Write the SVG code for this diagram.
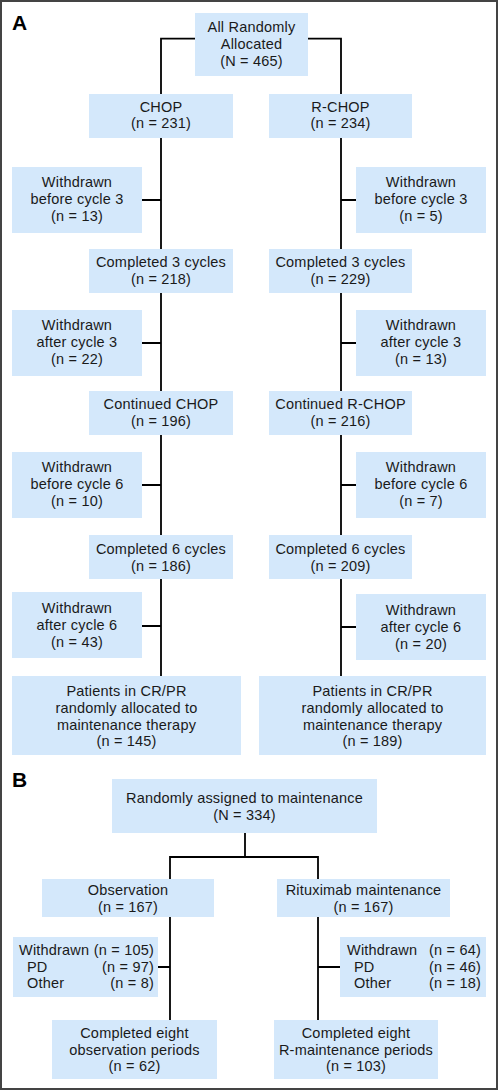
<svg xmlns="http://www.w3.org/2000/svg" width="500" height="1092" viewBox="0 0 500 1092">
<style>
.b{fill:#d4e8fb}
text{font-family:"Liberation Sans",Arial,sans-serif;font-size:14.5px;fill:#1a1a1a;letter-spacing:0.2px}
.c{text-anchor:middle}
.e{text-anchor:end}
.L{font-size:21px;font-weight:bold;fill:#000;letter-spacing:0}
.ln{fill:none;stroke:#000;stroke-width:1.8}
</style>
<rect x="1" y="1" width="496" height="1088" fill="#fff" stroke="#444" stroke-width="2"/>
<text class="L" x="12" y="30">A</text>
<text class="L" x="12" y="787">B</text>
<g id="connectors" class="ln">
<path d="M195 38.7H161V94M308 38.7H341V94"/>
<path d="M161 138V676M341 138V676"/>
<path d="M142 200H161M341 200H356"/>
<path d="M142 343H161M341 343H356"/>
<path d="M142 485H161M341 485H356"/>
<path d="M142 626H161M341 627H356"/>
<path d="M245 833V857M170 879V857H318V879"/>
<path d="M170 917V1020M318 917V1020"/>
<path d="M158 967H170M318 967H340"/>
</g>
<g id="n_all"><rect class="b" x="195" y="13" width="113" height="63"/><text class="c" x="251.5" y="32">All Randomly</text><text class="c" x="251.5" y="49">Allocated</text><text class="c" x="251.5" y="65.5">(N = 465)</text></g>
<g id="n_chop"><rect class="b" x="89" y="94" width="144" height="44"/><text class="c" x="161" y="112">CHOP</text><text class="c" x="161" y="128">(n = 231)</text></g>
<g id="n_rchop"><rect class="b" x="269" y="94" width="143" height="44"/><text class="c" x="340.5" y="112">R-CHOP</text><text class="c" x="340.5" y="128">(n = 234)</text></g>
<g id="n_wl1"><rect class="b" x="12" y="167" width="130" height="66"/><text class="c" x="77" y="187">Withdrawn</text><text class="c" x="77" y="204">before cycle 3</text><text class="c" x="77" y="221">(n = 13)</text></g>
<g id="n_wr1"><rect class="b" x="356" y="167" width="130" height="66"/><text class="c" x="421" y="187">Withdrawn</text><text class="c" x="421" y="204">before cycle 3</text><text class="c" x="421" y="221">(n = 5)</text></g>
<g id="n_c3l"><rect class="b" x="89" y="249" width="144" height="44"/><text class="c" x="161" y="267">Completed 3 cycles</text><text class="c" x="161" y="284">(n = 218)</text></g>
<g id="n_c3r"><rect class="b" x="269" y="249" width="143" height="44"/><text class="c" x="340.5" y="267">Completed 3 cycles</text><text class="c" x="340.5" y="284">(n = 229)</text></g>
<g id="n_wl2"><rect class="b" x="12" y="310" width="130" height="66"/><text class="c" x="77" y="330">Withdrawn</text><text class="c" x="77" y="347">after cycle 3</text><text class="c" x="77" y="364">(n = 22)</text></g>
<g id="n_wr2"><rect class="b" x="356" y="310" width="130" height="66"/><text class="c" x="421" y="330">Withdrawn</text><text class="c" x="421" y="347">after cycle 3</text><text class="c" x="421" y="364">(n = 13)</text></g>
<g id="n_cnl"><rect class="b" x="89" y="391" width="144" height="44"/><text class="c" x="161" y="409">Continued CHOP</text><text class="c" x="161" y="426">(n = 196)</text></g>
<g id="n_cnr"><rect class="b" x="269" y="391" width="143" height="44"/><text class="c" x="340.5" y="409">Continued R-CHOP</text><text class="c" x="340.5" y="426">(n = 216)</text></g>
<g id="n_wl3"><rect class="b" x="12" y="452" width="130" height="66"/><text class="c" x="77" y="472">Withdrawn</text><text class="c" x="77" y="489">before cycle 6</text><text class="c" x="77" y="506">(n = 10)</text></g>
<g id="n_wr3"><rect class="b" x="356" y="452" width="130" height="66"/><text class="c" x="421" y="472">Withdrawn</text><text class="c" x="421" y="489">before cycle 6</text><text class="c" x="421" y="506">(n = 7)</text></g>
<g id="n_c6l"><rect class="b" x="89" y="535" width="144" height="44"/><text class="c" x="161" y="554">Completed 6 cycles</text><text class="c" x="161" y="571">(n = 186)</text></g>
<g id="n_c6r"><rect class="b" x="269" y="535" width="143" height="44"/><text class="c" x="340.5" y="554">Completed 6 cycles</text><text class="c" x="340.5" y="571">(n = 209)</text></g>
<g id="n_wl4"><rect class="b" x="12" y="592" width="130" height="66"/><text class="c" x="77" y="613">Withdrawn</text><text class="c" x="77" y="630">after cycle 6</text><text class="c" x="77" y="647">(n = 43)</text></g>
<g id="n_wr4"><rect class="b" x="356" y="594" width="130" height="66"/><text class="c" x="421" y="615">Withdrawn</text><text class="c" x="421" y="632">after cycle 6</text><text class="c" x="421" y="649">(n = 20)</text></g>
<g id="n_pl"><rect class="b" x="12" y="676" width="229" height="79"/><text class="c" x="126.5" y="696">Patients in CR/PR</text><text class="c" x="126.5" y="713">randomly allocated to</text><text class="c" x="126.5" y="730">maintenance therapy</text><text class="c" x="126.5" y="746">(n = 145)</text></g>
<g id="n_pr"><rect class="b" x="259" y="676" width="227" height="79"/><text class="c" x="372.5" y="696">Patients in CR/PR</text><text class="c" x="372.5" y="713">randomly allocated to</text><text class="c" x="372.5" y="730">maintenance therapy</text><text class="c" x="372.5" y="746">(n = 189)</text></g>
<g id="n_ram"><rect class="b" x="112" y="779" width="265" height="54"/><text class="c" x="244.5" y="803">Randomly assigned to maintenance</text><text class="c" x="244.5" y="820">(N = 334)</text></g>
<g id="n_obs"><rect class="b" x="42" y="879" width="172" height="38"/><text class="c" x="128" y="895">Observation</text><text class="c" x="128" y="912">(n = 167)</text></g>
<g id="n_rit"><rect class="b" x="277" y="879" width="173" height="38"/><text class="c" x="363.5" y="895">Rituximab maintenance</text><text class="c" x="363.5" y="912">(n = 167)</text></g>
<g id="n_wbl"><rect class="b" x="13" y="937" width="145" height="60"/><text x="19" y="955">Withdrawn</text><text class="e" x="154" y="955">(n = 105)</text><text x="27" y="972">PD</text><text class="e" x="154" y="972">(n = 97)</text><text x="27" y="988">Other</text><text class="e" x="154" y="988">(n = 8)</text></g>
<g id="n_wbr"><rect class="b" x="340" y="937" width="146" height="60"/><text x="347" y="955">Withdrawn</text><text class="e" x="481" y="955">(n = 64)</text><text x="354" y="972">PD</text><text class="e" x="481" y="972">(n = 46)</text><text x="354" y="988">Other</text><text class="e" x="481" y="988">(n = 18)</text></g>
<g id="n_cel"><rect class="b" x="52" y="1020" width="165" height="59"/><text class="c" x="134.5" y="1038">Completed eight</text><text class="c" x="134.5" y="1055">observation periods</text><text class="c" x="134.5" y="1071">(n = 62)</text></g>
<g id="n_cer"><rect class="b" x="274" y="1020" width="164" height="59"/><text class="c" x="356" y="1038">Completed eight</text><text class="c" x="356" y="1055">R-maintenance periods</text><text class="c" x="356" y="1071">(n = 103)</text></g>
</svg>
